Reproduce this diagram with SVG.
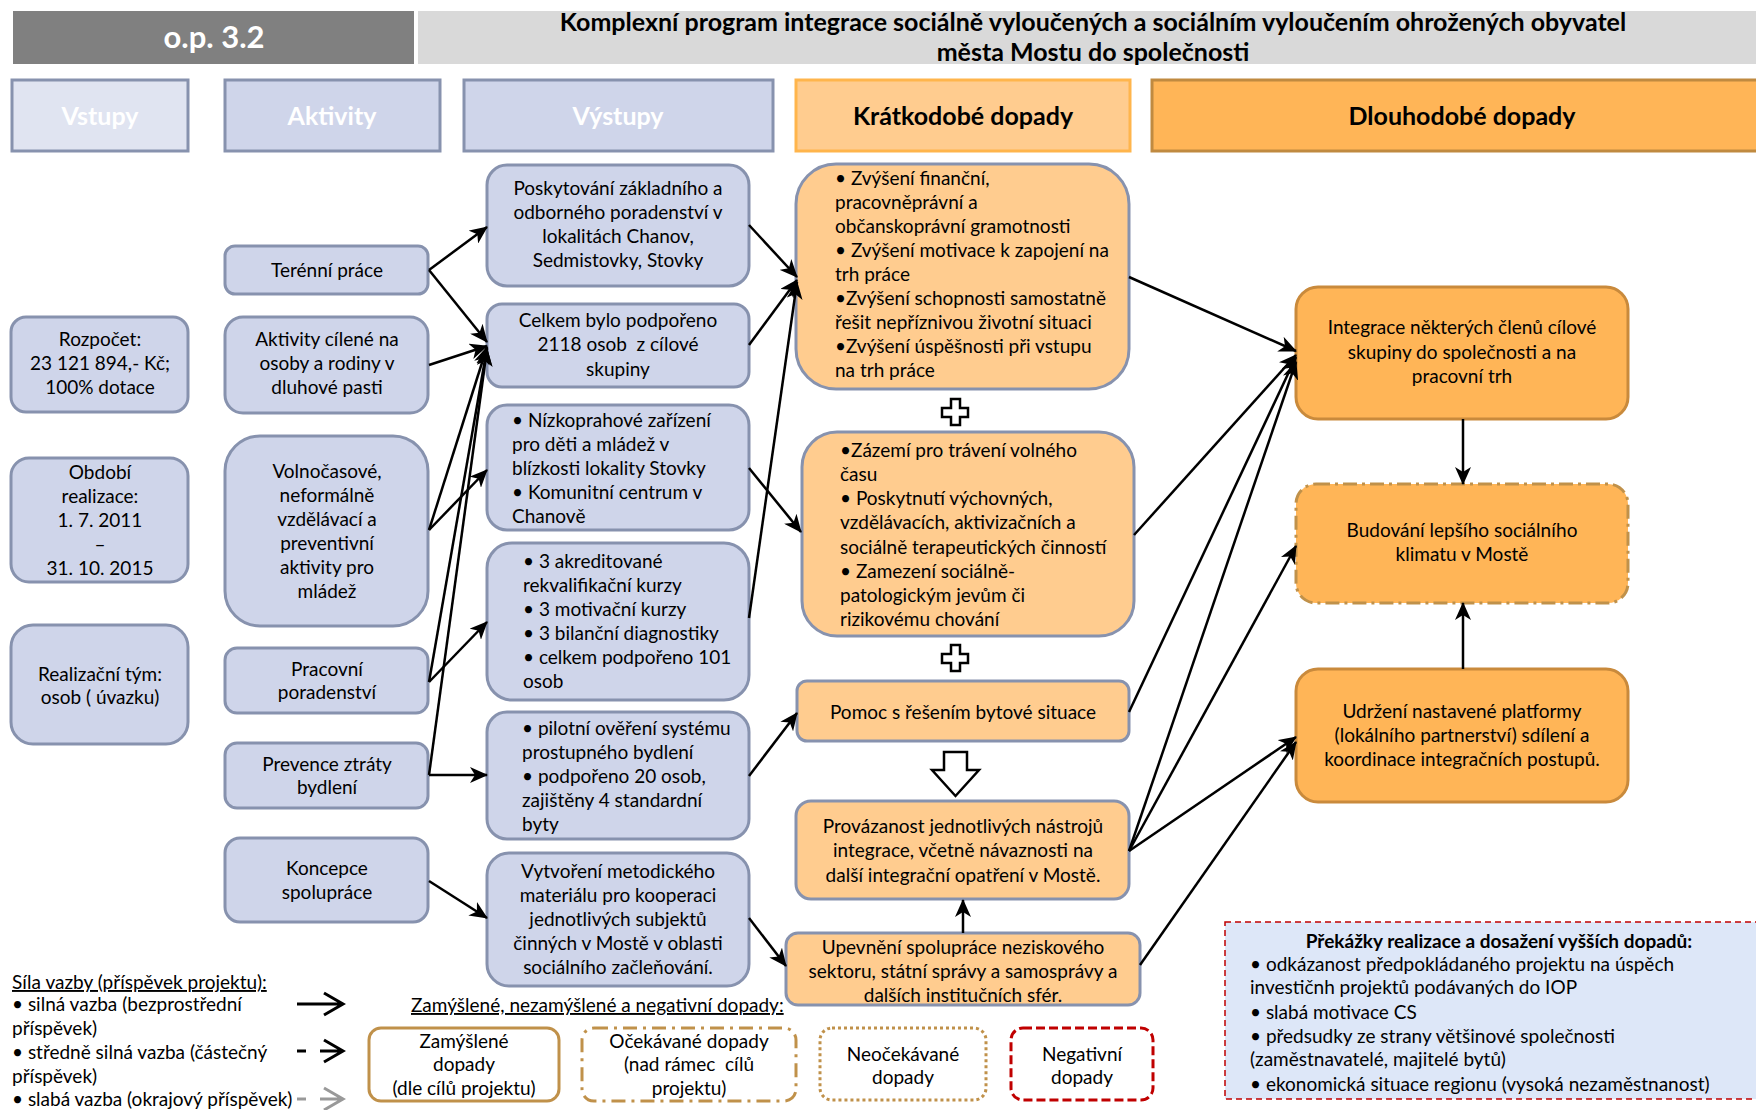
<svg xmlns="http://www.w3.org/2000/svg" width="1756" height="1110" viewBox="0 0 1756 1110">
<defs>
<style>
.t{font-family:Lato,"Liberation Sans",sans-serif;font-size:19px;fill:#000}
.c{text-anchor:middle}
.hb{font-family:Lato,"Liberation Sans",sans-serif;font-weight:bold;font-size:25px;text-anchor:middle}
.nb{fill:#cfd5ea;stroke:#8792ae;stroke-width:3}
.no{fill:#ffcc8f;stroke:#8792ae;stroke-width:3}
.nd{fill:#ffb557;stroke:#c98a3c;stroke-width:3}
.conn line{stroke:#000;stroke-width:2.5;marker-end:url(#ah)}
.lb{fill:#fff;stroke:#c0914a;stroke-width:3}
</style>
<marker id="ah" markerWidth="18" markerHeight="16" refX="17" refY="8" orient="auto" markerUnits="userSpaceOnUse"><path d="M0,0 L18,8 L0,16 L5,8 z" fill="#000"/></marker>
</defs>

<g id="header">
<rect x="13" y="11" width="401" height="53" fill="#808080"/>
<text x="214" y="48" font-family="Lato,'Liberation Sans',sans-serif" font-weight="bold" font-size="31" fill="#fff" text-anchor="middle">o.p. 3.2</text>
<rect x="418" y="11" width="1338" height="53" fill="#d9d9d9"/>
<text x="1093" y="31" font-family="Lato,'Liberation Sans',sans-serif" font-weight="bold" font-size="25" text-anchor="middle">Komplexní program integrace sociálně vyloučených a sociálním vyloučením ohrožených obyvatel</text>
<text x="1093" y="61" font-family="Lato,'Liberation Sans',sans-serif" font-weight="bold" font-size="25" text-anchor="middle">města Mostu do společnosti</text>
</g>

<g id="col-headers">
<g id="h-vstupy"><rect x="12" y="80" width="176" height="71" fill="#e0e4f1" stroke="#8792ae" stroke-width="3"/><text x="100" y="125" class="hb" fill="#fff">Vstupy</text></g>
<g id="h-aktivity"><rect x="225" y="80" width="215" height="71" fill="#cfd5ea" stroke="#8792ae" stroke-width="3"/><text x="332" y="125" class="hb" fill="#fff">Aktivity</text></g>
<g id="h-vystupy"><rect x="464" y="80" width="309" height="71" fill="#cfd5ea" stroke="#8792ae" stroke-width="3"/><text x="618" y="125" class="hb" fill="#fff">Výstupy</text></g>
<g id="h-kratko"><rect x="796" y="80" width="334" height="71" fill="#ffcc8f" stroke="#ffb54c" stroke-width="3"/><text x="963" y="125" class="hb" fill="#000">Krátkodobé dopady</text></g>
<g id="h-dlouho"><rect x="1152" y="80" width="610" height="71" fill="#ffb557" stroke="#c08a40" stroke-width="3"/><text x="1462" y="125" class="hb" fill="#000">Dlouhodobé dopady</text></g>
</g>

<g id="n-rozpocet"><rect x="11" y="317" width="177" height="95" rx="15" class="nb"/>
<text class="t c"><tspan x="100" y="346">Rozpočet:</tspan><tspan x="100" y="370">23 121 894,- Kč;</tspan><tspan x="100" y="394">100% dotace</tspan></text></g>
<g id="n-obdobi"><rect x="11" y="458" width="177" height="124" rx="18" class="nb"/>
<text class="t c"><tspan x="100" y="479">Období</tspan><tspan x="100" y="503">realizace:</tspan><tspan x="100" y="527">1. 7. 2011</tspan><tspan x="100" y="551">–</tspan><tspan x="100" y="575">31. 10. 2015</tspan></text></g>
<g id="n-tym"><rect x="11" y="625" width="177" height="119" rx="22" class="nb"/>
<text class="t c"><tspan x="100" y="681">Realizační tým:</tspan><tspan x="100" y="704">osob ( úvazku)</tspan></text></g>

<g id="n-terenni"><rect x="225" y="246" width="203" height="48" rx="10" class="nb"/>
<text class="t c" x="327" y="277">Terénní práce</text></g>
<g id="n-dluhy"><rect x="225" y="317" width="203" height="96" rx="18" class="nb"/>
<text class="t c"><tspan x="327" y="346">Aktivity cílené na</tspan><tspan x="327" y="370">osoby a rodiny v</tspan><tspan x="327" y="394">dluhové pasti</tspan></text></g>
<g id="n-volno"><rect x="225" y="436" width="203" height="190" rx="35" class="nb"/>
<text class="t c"><tspan x="327" y="478">Volnočasové,</tspan><tspan x="327" y="502">neformálně</tspan><tspan x="327" y="526">vzdělávací a</tspan><tspan x="327" y="550">preventivní</tspan><tspan x="327" y="574">aktivity pro</tspan><tspan x="327" y="598">mládež</tspan></text></g>
<g id="n-pracovni"><rect x="225" y="648" width="203" height="65" rx="12" class="nb"/>
<text class="t c"><tspan x="327" y="676">Pracovní</tspan><tspan x="327" y="699">poradenství</tspan></text></g>
<g id="n-prevence"><rect x="225" y="743" width="203" height="65" rx="12" class="nb"/>
<text class="t c"><tspan x="327" y="771">Prevence ztráty</tspan><tspan x="327" y="794">bydlení</tspan></text></g>
<g id="n-koncepce"><rect x="225" y="838" width="203" height="84" rx="15" class="nb"/>
<text class="t c"><tspan x="327" y="875">Koncepce</tspan><tspan x="327" y="899">spolupráce</tspan></text></g>

<g id="n-poskytovani"><rect x="487" y="165" width="262" height="121" rx="20" class="nb"/>
<text class="t c"><tspan x="618" y="195">Poskytování základního a</tspan><tspan x="618" y="219">odborného poradenství v</tspan><tspan x="618" y="243">lokalitách Chanov,</tspan><tspan x="618" y="267">Sedmistovky, Stovky</tspan></text></g>
<g id="n-celkem"><rect x="487" y="304" width="262" height="83" rx="15" class="nb"/>
<text class="t c"><tspan x="618" y="327">Celkem bylo podpořeno</tspan><tspan x="618" y="351">2118 osob&#160; z cílové</tspan><tspan x="618" y="376">skupiny</tspan></text></g>
<g id="n-nizko"><rect x="487" y="405" width="262" height="125" rx="20" class="nb"/>
<text class="t"><tspan x="512" y="427">• Nízkoprahové zařízení</tspan><tspan x="512" y="451">pro děti a mládež v</tspan><tspan x="512" y="475">blízkosti lokality Stovky</tspan><tspan x="512" y="499">• Komunitní centrum v</tspan><tspan x="512" y="523">Chanově</tspan></text></g>
<g id="n-kurzy"><rect x="487" y="543" width="262" height="157" rx="25" class="nb"/>
<text class="t"><tspan x="523" y="568">• 3 akreditované</tspan><tspan x="523" y="592">rekvalifikační kurzy</tspan><tspan x="523" y="616">• 3 motivační kurzy</tspan><tspan x="523" y="640">• 3 bilanční diagnostiky</tspan><tspan x="523" y="664">• celkem podpořeno 101</tspan><tspan x="523" y="688">osob</tspan></text></g>
<g id="n-pilotni"><rect x="487" y="712" width="262" height="127" rx="20" class="nb"/>
<text class="t"><tspan x="522" y="735">• pilotní ověření systému</tspan><tspan x="522" y="759">prostupného bydlení</tspan><tspan x="522" y="783">• podpořeno 20 osob,</tspan><tspan x="522" y="807">zajištěny 4 standardní</tspan><tspan x="522" y="831">byty</tspan></text></g>
<g id="n-vytvoreni"><rect x="487" y="853" width="262" height="133" rx="22" class="nb"/>
<text class="t c"><tspan x="618" y="878">Vytvoření metodického</tspan><tspan x="618" y="902">materiálu pro kooperaci</tspan><tspan x="618" y="926">jednotlivých subjektů</tspan><tspan x="618" y="950">činných v Mostě v oblasti</tspan><tspan x="618" y="974">sociálního začleňování.</tspan></text></g>

<g id="n-kd1"><rect x="796" y="164" width="333" height="225" rx="40" class="no"/>
<text class="t"><tspan x="835" y="185">• Zvýšení finanční,</tspan><tspan x="835" y="209">pracovněprávní a</tspan><tspan x="835" y="233">občanskoprávní gramotnosti</tspan><tspan x="835" y="257">• Zvýšení motivace k zapojení na</tspan><tspan x="835" y="281">trh práce</tspan><tspan x="835" y="305">•Zvýšení schopnosti samostatně</tspan><tspan x="835" y="329">řešit nepříznivou životní situaci</tspan><tspan x="835" y="353">•Zvýšení úspěšnosti při vstupu</tspan><tspan x="835" y="377">na trh práce</tspan></text></g>
<g id="plus1"><path d="M951,399 H960 V408 H968 V417 H960 V425 H951 V417 H942 V408 H951 Z" fill="#fff" stroke="#000" stroke-width="2.5"/></g>
<g id="n-kd2"><rect x="802" y="432" width="332" height="204" rx="35" class="no"/>
<text class="t"><tspan x="840" y="457">•Zázemí pro trávení volného</tspan><tspan x="840" y="481">času</tspan><tspan x="840" y="505">• Poskytnutí výchovných,</tspan><tspan x="840" y="529">vzdělávacích, aktivizačních a</tspan><tspan x="840" y="554">sociálně terapeutických činností</tspan><tspan x="840" y="578">• Zamezení sociálně-</tspan><tspan x="840" y="602">patologickým jevům či</tspan><tspan x="840" y="626">rizikovému chování</tspan></text></g>
<g id="plus2"><path d="M951,645 H960 V654 H968 V663 H960 V671 H951 V663 H942 V654 H951 Z" fill="#fff" stroke="#000" stroke-width="2.5"/></g>
<g id="n-pomoc"><rect x="797" y="681" width="332" height="60" rx="10" class="no"/>
<text class="t c" x="963" y="719">Pomoc s řešením bytové situace</text></g>
<g id="bigarrow"><path d="M944,752 H967 V770 H979 L955.5,796 L932,770 H944 Z" fill="#fff" stroke="#000" stroke-width="2.5"/></g>
<g id="n-provazanost"><rect x="796" y="801" width="333" height="98" rx="15" class="no"/>
<text class="t c"><tspan x="963" y="833">Provázanost jednotlivých nástrojů</tspan><tspan x="963" y="857">integrace, včetně návaznosti na</tspan><tspan x="963" y="882">další integrační opatření v Mostě.</tspan></text></g>
<g id="n-upevneni"><rect x="786" y="933" width="354" height="72" rx="12" class="no"/>
<text class="t c"><tspan x="963" y="954">Upevnění spolupráce neziskového</tspan><tspan x="963" y="978">sektoru, státní správy a samosprávy a</tspan><tspan x="963" y="1002">dalších institučních sfér.</tspan></text></g>

<g id="n-integrace"><rect x="1296" y="287" width="332" height="132" rx="22" class="nd"/>
<text class="t c"><tspan x="1462" y="334">Integrace některých členů cílové</tspan><tspan x="1462" y="359">skupiny do společnosti a na</tspan><tspan x="1462" y="383">pracovní trh</tspan></text></g>
<g id="n-budovani"><rect x="1296" y="484" width="332" height="119" rx="20" fill="#ffb557" stroke="#c0914a" stroke-width="3" stroke-dasharray="14 5 3 5"/>
<text class="t c"><tspan x="1462" y="537">Budování lepšího sociálního</tspan><tspan x="1462" y="561">klimatu v Mostě</tspan></text></g>
<g id="n-udrzeni"><rect x="1296" y="669" width="332" height="133" rx="22" class="nd"/>
<text class="t c"><tspan x="1462" y="718">Udržení nastavené platformy</tspan><tspan x="1462" y="742">(lokálního partnerství) sdílení a</tspan><tspan x="1462" y="766">koordinace integračních postupů.</tspan></text></g>

<g id="connectors" class="conn">
<line x1="429" y1="270" x2="487" y2="227"/>
<line x1="429" y1="270" x2="487" y2="342"/>
<line x1="429" y1="365" x2="487" y2="346"/>
<line x1="429" y1="530" x2="487" y2="347"/>
<line x1="429" y1="530" x2="487" y2="470"/>
<line x1="429" y1="682" x2="487" y2="622"/>
<line x1="429" y1="682" x2="487" y2="348"/>
<line x1="429" y1="775" x2="487" y2="775"/>
<line x1="429" y1="775" x2="487" y2="349"/>
<line x1="429" y1="881" x2="487" y2="918"/>
<line x1="749" y1="225" x2="797" y2="277"/>
<line x1="749" y1="345" x2="797" y2="280"/>
<line x1="749" y1="618" x2="797" y2="282"/>
<line x1="749" y1="468" x2="801" y2="532"/>
<line x1="749" y1="776" x2="797" y2="713"/>
<line x1="749" y1="918" x2="786" y2="966"/>
<line x1="963" y1="933" x2="963" y2="900"/>
<line x1="1129" y1="277" x2="1296" y2="351"/>
<line x1="1134" y1="535" x2="1296" y2="355"/>
<line x1="1129" y1="712" x2="1296" y2="357"/>
<line x1="1129" y1="851" x2="1296" y2="362"/>
<line x1="1129" y1="851" x2="1296" y2="546"/>
<line x1="1129" y1="851" x2="1296" y2="737"/>
<line x1="1140" y1="965" x2="1296" y2="742"/>
<line x1="1463" y1="419" x2="1463" y2="484"/>
<line x1="1463" y1="669" x2="1463" y2="603"/>
</g>

<g id="legend-strength">
<text class="t" x="12" y="989" text-decoration="underline">Síla vazby (příspěvek projektu):</text>
<text class="t"><tspan x="12" y="1011">• silná vazba (bezprostřední</tspan><tspan x="12" y="1035">příspěvek)</tspan><tspan x="12" y="1059">• středně silná vazba (částečný</tspan><tspan x="12" y="1083">příspěvek)</tspan><tspan x="12" y="1106">• slabá vazba (okrajový příspěvek)</tspan></text>
<path d="M297,1004 H343 M324,993 L343,1004 L324,1015" fill="none" stroke="#000" stroke-width="3"/>
<path d="M297,1051 H306 M320,1051 H343 M324,1040 L343,1051 L324,1062" fill="none" stroke="#000" stroke-width="3"/>
<path d="M297,1099 H306 M320,1099 H343 M324,1088 L343,1099 L324,1110" fill="none" stroke="#999" stroke-width="3"/>
</g>

<g id="legend-impacts">
<text class="t" x="411" y="1012" text-decoration="underline">Zamýšlené, nezamýšlené a negativní dopady:</text>
<g id="lg-zamyslene"><rect x="369" y="1028" width="190" height="73" rx="12" class="lb"/>
<text class="t c"><tspan x="464" y="1048">Zamýšlené</tspan><tspan x="464" y="1071">dopady</tspan><tspan x="464" y="1095">(dle cílů projektu)</tspan></text></g>
<g id="lg-ocekavane"><rect x="582" y="1028" width="214" height="73" rx="12" class="lb" stroke-dasharray="14 6 3 6"/>
<text class="t c"><tspan x="689" y="1048">Očekávané dopady</tspan><tspan x="689" y="1071">(nad rámec&#160; cílů</tspan><tspan x="689" y="1095">projektu)</tspan></text></g>
<g id="lg-neocekavane"><rect x="820" y="1028" width="166" height="72" rx="12" class="lb" stroke-dasharray="3 3"/>
<text class="t c"><tspan x="903" y="1061">Neočekávané</tspan><tspan x="903" y="1084">dopady</tspan></text></g>
<g id="lg-negativni"><rect x="1011" y="1028" width="142" height="72" rx="12" fill="#fff" stroke="#c00000" stroke-width="3" stroke-dasharray="9 4"/>
<text class="t c"><tspan x="1082" y="1061">Negativní</tspan><tspan x="1082" y="1084">dopady</tspan></text></g>
</g>

<g id="prekazky"><rect x="1225" y="922" width="545" height="177" fill="#dde7f8" stroke="#c00000" stroke-width="1.5" stroke-dasharray="6 4"/>
<text class="t c" x="1499" y="948" font-weight="bold">Překážky realizace a dosažení vyšších dopadů:</text>
<text class="t" font-size="18.7"><tspan x="1250" y="971">• odkázanost předpokládaného projektu na úspěch</tspan><tspan x="1250" y="994">investičnh projektů podávaných do IOP</tspan><tspan x="1250" y="1019">• slabá motivace CS</tspan><tspan x="1250" y="1043">• předsudky ze strany většinové společnosti</tspan><tspan x="1250" y="1066">(zaměstnavatelé, majitelé bytů)</tspan><tspan x="1250" y="1091">• ekonomická situace regionu (vysoká nezaměstnanost)</tspan></text>
</g>
</svg>
